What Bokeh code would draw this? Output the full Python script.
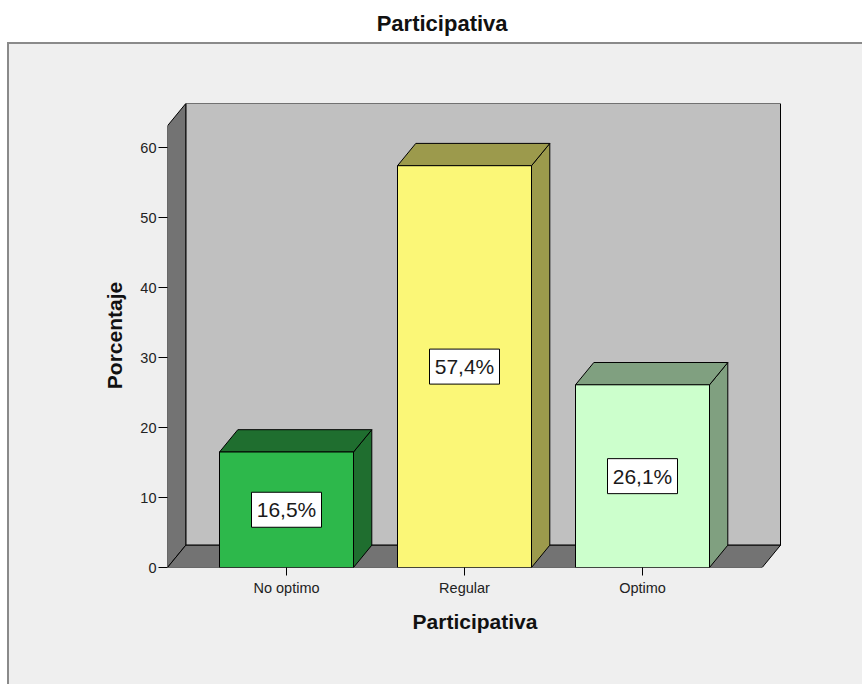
from bokeh.plotting import figure
from bokeh.models import ColumnDataSource, FixedTicker, Range1d, Title
from bokeh.core.properties import value
from bokeh.embed import file_html
from bokeh.resources import INLINE

# ---- data ----
categories = ["No optimo", "Regular", "Optimo"]
percentages = [16.5, 57.4, 26.1]
value_labels = ["16,5%", "57,4%", "26,1%"]
y_ticks = [0, 10, 20, 30, 40, 50, 60]
title_text = "Participativa"
x_label = "Participativa"
y_label = "Porcentaje"

# ---- styles ----
front_colors = ["#2db84b", "#fbf777", "#ccffcc"]
shade_colors = ["#1f6e2f", "#9c9a4c", "#80a080"]
WALL_BACK = "#c0c0c0"
WALL_SIDE = "#737373"
PANEL_BG = "#efefef"
PANEL_LINE = "#8a8a8a"
FONT = "Liberation Sans"

# ---- layout (pixels) ----
W, H = 862, 684
FRAME_L, FRAME_R, FRAME_T, FRAME_B = 167, 782, 103, 567
PX_PER_CAT = 178.0
CAT0_PX = 286.0
PX_PER_UNIT = 7.0


def xu(px):
    return (px - CAT0_PX) / PX_PER_CAT


def yu(py):
    return (FRAME_B - py) / PX_PER_UNIT


x_start, x_end = xu(FRAME_L), xu(FRAME_R)
y_end = yu(FRAME_T)
DX = 18.3 / PX_PER_CAT
DY = 22.3 / PX_PER_UNIT
X0 = x_start
X1 = xu(761.7)
YT = y_end - DY
HALF = 67.0 / PX_PER_CAT

# outer SPSS-like panel (white margin at top/left, grey rule, light grey fill)
panel_css = (
    "linear-gradient(to right, white 0px, white 7px, transparent 7px), "
    f"linear-gradient(to bottom, white 0px, white 42px, {PANEL_LINE} 42px, {PANEL_LINE} 44px, transparent 44px), "
    f"linear-gradient(to right, transparent 0px, transparent 7px, {PANEL_LINE} 7px, {PANEL_LINE} 9px, {PANEL_BG} 9px)"
)

p = figure(width=W, height=H, x_range=Range1d(x_start, x_end), y_range=Range1d(0, y_end),
           output_backend="svg", toolbar_location=None,
           min_border_left=FRAME_L, min_border_right=W - FRAME_R,
           min_border_top=FRAME_T, min_border_bottom=H - FRAME_B,
           styles={"background": panel_css})
p.title = Title(text=title_text, align="left", vertical_align="bottom",
                offset=441.7 - 65.5 - FRAME_L, standoff=10,
                text_font=FONT, text_font_size="22px",
                text_font_style="bold", text_color="#111111")
# blank spacer between the frame and the title, pushing the title up
p.add_layout(Title(text=" ", text_font_size="1px", standoff=60), "above")
p.background_fill_color = PANEL_BG
p.border_fill_color = None
p.outline_line_color = None
p.grid.visible = False

# 3D box: back wall, left wall, floor
p.quad(left=[X0 + DX], right=[X1 + DX], bottom=[DY], top=[YT + DY],
       fill_color=WALL_BACK, line_color="black", line_width=1)
p.patch([X0, X0, X0 + DX, X0 + DX], [0, YT, YT + DY, DY],
        fill_color=WALL_SIDE, line_color="black", line_width=1)
p.patch([X0, X1, X1 + DX, X0 + DX], [0, 0, DY, DY],
        fill_color=WALL_SIDE, line_color="black", line_width=1)

idx = list(range(len(categories)))
side_xs = [[i + HALF, i + HALF + DX, i + HALF + DX, i + HALF] for i in idx]
side_ys = [[0, DY, v + DY, v] for v in percentages]
top_xs = [[i - HALF, i + HALF, i + HALF + DX, i - HALF + DX] for i in idx]
top_ys = [[v, v, v + DY, v + DY] for v in percentages]

p.patches(xs=side_xs, ys=side_ys, fill_color=shade_colors, line_color="black", line_width=1)
p.patches(xs=top_xs, ys=top_ys, fill_color=shade_colors, line_color="black", line_width=1)

src = ColumnDataSource(dict(x=idx, top=percentages, mid=[v / 2 for v in percentages],
                            color=front_colors, label=value_labels))
p.vbar(x="x", top="top", bottom=0, width=2 * HALF, fill_color="color",
       line_color="black", line_width=1, source=src)

# value labels in white boxes
p.rect(x="x", y="mid", width=70, height=35, width_units="screen", height_units="screen",
       fill_color="white", line_color="black", line_width=1, source=src)
p.text(x="x", y="mid", text="label", source=src, text_align="center",
       text_baseline="middle", text_font=value(FONT), text_font_size="21px",
       text_color="#1a1a1a")

# axes
p.yaxis.ticker = FixedTicker(ticks=y_ticks)
p.yaxis.axis_line_color = None
p.yaxis.major_tick_out = 9
p.yaxis.major_tick_in = 0
p.yaxis.minor_tick_line_color = None
p.yaxis.major_tick_line_color = "black"
p.yaxis.major_label_standoff = 2
p.yaxis.major_label_text_font = FONT
p.yaxis.major_label_text_font_size = "14.5px"
p.yaxis.major_label_text_color = "#222222"
p.yaxis.axis_label = y_label
p.yaxis.axis_label_text_font = FONT
p.yaxis.axis_label_text_font_size = "21px"
p.yaxis.axis_label_text_font_style = "bold"
p.yaxis.axis_label_text_color = "#111111"
p.yaxis.axis_label_standoff = 11

p.xaxis.ticker = FixedTicker(ticks=idx)
p.xaxis.major_label_overrides = {i: c for i, c in zip(idx, categories)}
p.xaxis.axis_line_color = None
p.xaxis.major_tick_out = 8
p.xaxis.major_tick_in = 0
p.xaxis.minor_tick_line_color = None
p.xaxis.major_tick_line_color = "black"
p.xaxis.major_label_standoff = 4
p.xaxis.major_label_text_font = FONT
p.xaxis.major_label_text_font_size = "14.5px"
p.xaxis.major_label_text_color = "#222222"
p.xaxis.axis_label = x_label
p.xaxis.axis_label_text_font = FONT
p.xaxis.axis_label_text_font_size = "21px"
p.xaxis.axis_label_text_font_style = "bold"
p.xaxis.axis_label_text_color = "#111111"
p.xaxis.axis_label_standoff = 11

open("out.html", "w").write(file_html(p, INLINE))
